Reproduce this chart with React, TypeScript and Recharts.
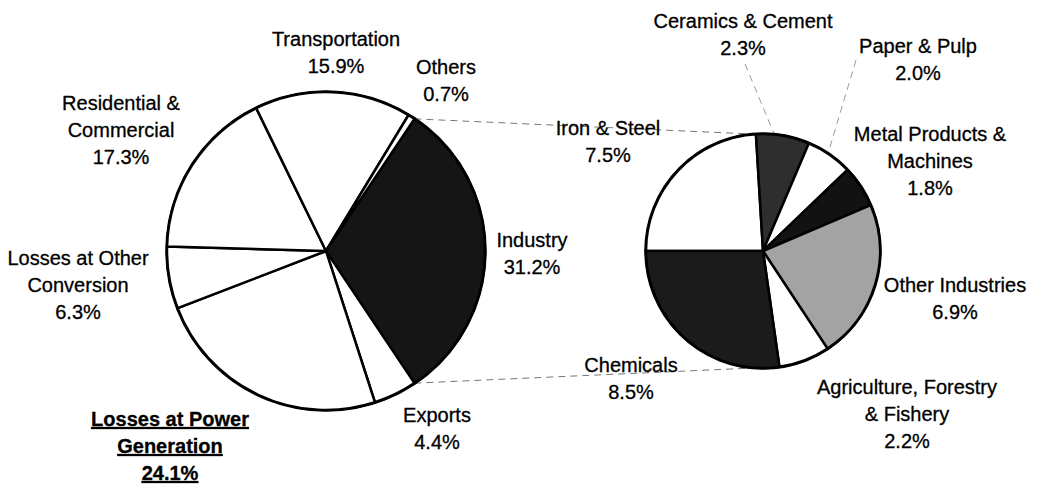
import { PieChart, Pie, Cell, Customized } from "recharts";

// primary pie: final energy use
const MAIN_NAMES = [
  "Industry",
  "Exports",
  "Losses at Power\nGeneration",
  "Losses at Other\nConversion",
  "Residential &\nCommercial",
  "Transportation",
  "Others",
];
const MAIN_VALUES = [31.2, 4.4, 24.1, 6.3, 17.3, 15.9, 0.7];

// secondary pie: industry breakdown
const IND_NAMES = [
  "Iron & Steel",
  "Ceramics & Cement",
  "Paper & Pulp",
  "Metal Products &\nMachines",
  "Other Industries",
  "Agriculture, Forestry\n& Fishery",
  "Chemicals",
];
const IND_VALUES = [7.5, 2.3, 2.0, 1.8, 6.9, 2.2, 8.5];

const MAIN_COLORS = ["#151515", "#fff", "#fff", "#fff", "#fff", "#fff", "#fff"];
const IND_COLORS = ["#fff", "#2e2e2e", "#fff", "#121212", "#a3a3a3", "#fff", "#1b1b1b"];

// label anchors (center of first line)
const MAIN_LABEL_POS = [
  { x: 532, y: 240 },
  { x: 437, y: 415 },
  { x: 170, y: 419, bold: true },
  { x: 78, y: 258 },
  { x: 121, y: 103 },
  { x: 336, y: 39 },
  { x: 446, y: 67 },
];
const IND_LABEL_POS = [
  { x: 608, y: 128 },
  { x: 743, y: 21 },
  { x: 918, y: 46 },
  { x: 930, y: 134 },
  { x: 955, y: 285 },
  { x: 907, y: 387 },
  { x: 631, y: 365 },
];

const W = 1043;
const H = 489;
const FONT = "'Liberation Sans', Arial, sans-serif";
const LINE = 27;
const RAD = Math.PI / 180;

const MAIN = { cx: 326, cy: 251, r: 159 };
const SUB = { cx: 763, cy: 251, r: 117 };

const mainData = MAIN_NAMES.map((name, i) => ({ name, value: MAIN_VALUES[i] }));
const indData = IND_NAMES.map((name, i) => ({ name, value: IND_VALUES[i] }));

const sum = (a: number[]) => a.reduce((s, v) => s + v, 0);
const mainStart = ((MAIN_VALUES[0] / sum(MAIN_VALUES)) * 360) / 2;
const indTotal = sum(IND_VALUES);
const ironEnd = 180 - (IND_VALUES[0] / indTotal) * 360;
const chemStart = -180 + (IND_VALUES[6] / indTotal) * 360;

const polar = (c: { cx: number; cy: number }, r: number, deg: number) => ({
  x: c.cx + r * Math.cos(deg * RAD),
  y: c.cy - r * Math.sin(deg * RAD),
});

function makeLabel(names: string[], values: number[], pos: any[]) {
  return (props: any) => {
    const i = props.index;
    const p = pos[i];
    const lines = [...names[i].split("\n"), values[i].toFixed(1) + "%"];
    return (
      <g key={"lbl" + i}>
        {lines.map((t, k) => (
          <text
            key={k}
            x={p.x}
            y={p.y + k * LINE + 7}
            textAnchor="middle"
            fontFamily={FONT}
            fontSize={20}
            fontWeight={p.bold ? 700 : 400}
            textDecoration={p.bold ? "underline" : undefined}
            fill="#000"
            stroke="#000"
            strokeWidth={0.3}
          >
            {t}
          </text>
        ))}
      </g>
    );
  };
}

function Connectors() {
  const a = polar(MAIN, MAIN.r, mainStart);
  const b = polar(MAIN, MAIN.r, mainStart - 360 * (MAIN_VALUES[0] / sum(MAIN_VALUES)));
  const c = polar(SUB, SUB.r, ironEnd);
  const d = polar(SUB, SUB.r, chemStart);
  // leader lines for the two small top slices
  const midAng = (idx: number) => {
    const before = sum(IND_VALUES.slice(0, idx));
    return 180 - ((before + IND_VALUES[idx] / 2) / indTotal) * 360;
  };
  const cer = polar(SUB, SUB.r, midAng(1));
  const pap = polar(SUB, SUB.r, midAng(2));
  const st = { stroke: "#777", strokeWidth: 1, strokeDasharray: "7 5", fill: "none" };
  return (
    <g>
      <line x1={a.x} y1={a.y} x2={c.x} y2={c.y} {...st} />
      <line x1={b.x} y1={b.y} x2={d.x} y2={d.y} {...st} />
      <line x1={745} y1={64} x2={cer.x - 8} y2={cer.y} {...st} stroke="#999" />
      <line x1={856} y1={60} x2={pap.x} y2={pap.y - 6} {...st} stroke="#999" />
    </g>
  );
}

// heavier outer rim on both pies
function Rims() {
  return (
    <g fill="none" stroke="#000" strokeWidth={3.5}>
      <circle cx={MAIN.cx} cy={MAIN.cy} r={MAIN.r} />
      <circle cx={SUB.cx} cy={SUB.cy} r={SUB.r} />
    </g>
  );
}

export default function App() {
  return (
    <div style={{ position: "absolute", left: 0, top: 0, background: "#fff" }}>
      <PieChart width={W} height={H} margin={{ top: 0, right: 0, bottom: 0, left: 0 }}>
        <Customized component={Connectors} />
        <Pie
          data={mainData}
          dataKey="value"
          nameKey="name"
          cx={MAIN.cx}
          cy={MAIN.cy}
          outerRadius={MAIN.r}
          startAngle={mainStart}
          endAngle={mainStart - 360}
          stroke="#000"
          strokeWidth={2.5}
          isAnimationActive={false}
          labelLine={false}
          label={makeLabel(MAIN_NAMES, MAIN_VALUES, MAIN_LABEL_POS)}
        >
          {mainData.map((_d, i) => (
            <Cell key={i} fill={MAIN_COLORS[i]} />
          ))}
        </Pie>
        <Pie
          data={indData}
          dataKey="value"
          nameKey="name"
          cx={SUB.cx}
          cy={SUB.cy}
          outerRadius={SUB.r}
          startAngle={180}
          endAngle={-180}
          stroke="#000"
          strokeWidth={2.5}
          isAnimationActive={false}
          labelLine={false}
          label={makeLabel(IND_NAMES, IND_VALUES, IND_LABEL_POS)}
        >
          {indData.map((_d, i) => (
            <Cell key={i} fill={IND_COLORS[i]} />
          ))}
        </Pie>
        <Customized component={Rims} />
      </PieChart>
    </div>
  );
}
